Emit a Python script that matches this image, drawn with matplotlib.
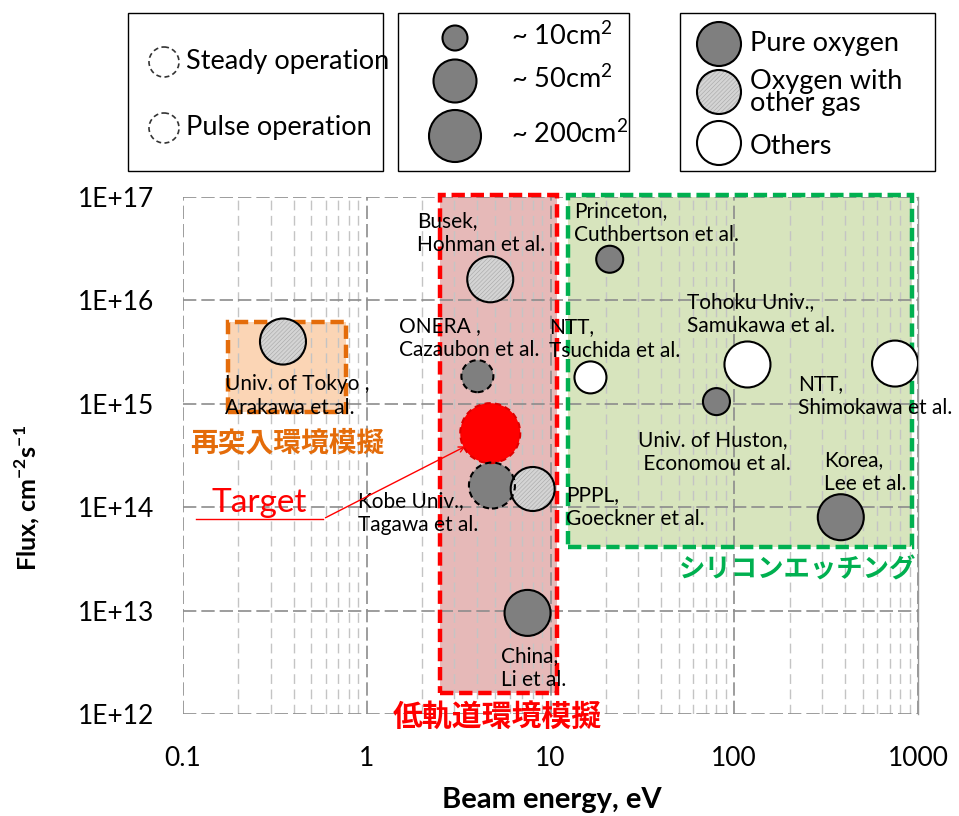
import numpy as np
import matplotlib
matplotlib.use("Agg")
import matplotlib.pyplot as plt
from matplotlib.patches import Rectangle, Circle
from matplotlib.ticker import LogLocator, NullFormatter

plt.rcParams['font.family'] = ['Lato', 'Noto Sans CJK JP', 'DejaVu Sans']
plt.rcParams['mathtext.fontset'] = 'custom'
plt.rcParams['mathtext.rm'] = 'Lato'
plt.rcParams['mathtext.bf'] = 'Lato:bold'
plt.rcParams['hatch.linewidth'] = 0.4

# ビーム源データ (エネルギー eV, フラックス cm-2 s-1)
names = ['Tokyo', 'Busek', 'ONERA', 'Target', 'Kobe', 'PPPL', 'China',
         'Princeton', 'NTT-Tsuchida', 'Tohoku', 'NTT-Shimokawa', 'Huston', 'Korea']
energy = [0.35, 4.7, 4.0, 4.7, 4.8, 8.0, 7.5, 21, 16.5, 118, 750, 80, 380]
flux = [4.0e15, 1.6e16, 1.85e15, 5.2e14, 1.62e14, 1.5e14, 9.5e12,
        2.5e16, 1.8e15, 2.4e15, 2.45e15, 1.05e15, 8.0e13]
diam = [46, 46, 32, 60, 46, 44, 46, 27, 32, 46, 46, 27, 46]   # 円の直径 (px)
gas = ['mix', 'mix', 'pure', 'target', 'pure', 'mix', 'pure',
       'pure', 'other', 'other', 'other', 'pure', 'pure']
pulsed = [False, False, True, True, True, False, False,
          False, False, False, False, False, False]

# 領域 (x0, x1, y0, y1)
reentry_box = [0.176, 0.77, 8.3e14, 6.2e15]
leo_box = [2.5, 10.8, 1.6e12, 1.05e17]
etch_box = [12.4, 925, 4.1e13, 1.05e17]

face = {'pure': '#7f7f7f', 'mix': '#d4d4d4', 'other': 'white', 'target': '#ff0000'}
edge = {'pure': 'black', 'mix': 'black', 'other': 'black', 'target': '#e00000'}
HATCH = '////////'
HATCH_C = '#a6a6a6'

fig = plt.figure(figsize=(9.59, 8.16), dpi=100)
ax = fig.add_axes([183/959, 1-714/816, (918-183)/959, (714-197)/816])
ax.set_xscale('log')
ax.set_yscale('log')
ax.set_xlim(0.1, 1000)
ax.set_ylim(1e12, 1e17)

def box(b, fc, ec):
    x0, x1, y0, y1 = b
    ax.add_patch(Rectangle((x0, y0), x1-x0, y1-y0, fc=fc, ec='none', zorder=1))
    ax.add_patch(Rectangle((x0, y0), x1-x0, y1-y0, fc='none', ec=ec, lw=3.2,
                           ls=(0, (3, 1.3)), zorder=2.6, clip_on=False))

box(reentry_box, '#fbd5b5', '#e46c0a')
box(leo_box, '#e6b9b8', '#ff0000')
box(etch_box, '#d7e4bd', '#00b050')

for i in range(len(names)):
    s = (diam[i]*0.72)**2
    ls = (0, (3, 2)) if pulsed[i] else 'solid'
    ax.scatter(energy[i], flux[i], s=s, c=face[gas[i]], edgecolors='none', zorder=3)
    if gas[i] == 'mix':
        # ハッチは灰色の線で、縁は別に描く
        ax.scatter(energy[i], flux[i], s=s, facecolors='none', edgecolors=HATCH_C,
                   linewidths=0, hatch=HATCH, zorder=3.1)
    ax.scatter(energy[i], flux[i], s=s, facecolors='none', edgecolors=edge[gas[i]],
               linewidths=1.5, linestyles=ls, zorder=3.2)

ax.set_axisbelow(False)
ax.grid(which='major', axis='both', color='#8c8c8c', ls=(0, (8, 3)), lw=1.2)
ax.xaxis.set_minor_locator(LogLocator(base=10, subs=np.arange(2, 10)))
ax.xaxis.set_minor_formatter(NullFormatter())
ax.grid(which='minor', axis='x', color='#c4c4c4', ls=(0, (7, 4)), lw=1.0)
ax.yaxis.set_minor_locator(plt.NullLocator())

ax.set_xticks([0.1, 1, 10, 100, 1000])
ax.set_xticklabels(['0.1', '1', '10', '100', '1000'])
ax.set_yticks([1e12, 1e13, 1e14, 1e15, 1e16, 1e17])
ax.set_yticklabels(['1E+12', '1E+13', '1E+14', '1E+15', '1E+16', '1E+17'])
ax.tick_params(which='both', length=0, labelsize=19)
ax.tick_params(axis='x', pad=23)
ax.tick_params(axis='y', pad=21)
for k in ['left', 'bottom', 'top']:
    ax.spines[k].set_visible(False)
ax.spines['right'].set_color('#9a9a9a')
ax.spines['right'].set_linewidth(1)

# 凡例と注記はピクセル座標で配置
ov = fig.add_axes([0, 0, 1, 1], zorder=5)
ov.set_xlim(0, 959)
ov.set_ylim(816, 0)
ov.axis('off')

fs = 15
labels = [
    (417, 233, 'Busek,\nHohman et al.'),
    (574, 223, 'Princeton,\nCuthbertson et al.'),
    (687, 314, 'Tohoku Univ.,\nSamukawa et al.'),
    (399, 338, 'ONERA ,\nCazaubon et al.'),
    (549, 339, 'NTT,\nTsuchida et al.'),
    (798, 396, 'NTT,\nShimokawa et al.'),
    (225, 396, 'Univ. of Tokyo ,\nArakawa et al.'),
    (638, 452, 'Univ. of Huston,\n Economou et al.'),
    (824, 472, 'Korea,\nLee et al.'),
    (358, 513, 'Kobe Univ.,\nTagawa et al.'),
    (566, 507, 'PPPL,\nGoeckner et al.'),
    (501, 668, 'China,\nLi et al.'),
]
for x, y, t in labels:
    ov.text(x, y, t, fontsize=fs, ha='left', va='center', linespacing=1.3)

ov.text(287, 443, '再突入環境模擬', color='#e46c0a', fontsize=20, fontweight='bold',
        ha='center', va='center')
ov.text(497, 716, '低軌道環境模擬', color='#ff0000', fontsize=21.5, fontweight='bold',
        ha='center', va='center')
ov.text(798, 569, 'シリコンエッチング', color='#00b050', fontsize=19, fontweight='bold',
        ha='center', va='center')

ov.text(259, 503, 'Target', color='#ff0000', fontsize=24, ha='center', va='center')
ov.plot([196, 323], [519, 519], color='#ff0000', lw=1)
ov.annotate('', xy=(468, 445), xytext=(323, 519),
            arrowprops=dict(arrowstyle='->', color='#ff0000', lw=1))

ov.text(552, 800, 'Beam energy, eV', fontsize=21, fontweight='bold', ha='center', va='center')
ov.text(27, 498, r'Flux, cm$^{\mathbf{-2}}$s$^{\mathbf{-1}}$', fontsize=18, fontweight='bold',
        rotation=90, ha='center', va='center')

# 凡例ボックス
for x0, x1 in [(128, 383), (398, 629), (680, 935)]:
    ov.add_patch(Rectangle((x0, 13), x1-x0, 158, fc='white', ec='black', lw=1))

lfs = 19.5
ov.add_patch(Circle((164, 62), 15, fc='white', ec='#333333', lw=1.2, ls=(0, (3, 2))))
ov.add_patch(Circle((164, 128), 15, fc='white', ec='#333333', lw=1.2, ls=(0, (3, 2))))
ov.text(186, 62, 'Steady operation', fontsize=lfs, va='center')
ov.text(186, 128, 'Pulse operation', fontsize=lfs, va='center')

for cy, r, t in [(38, 12.5, '~ 10cm$^2$'), (81, 21.5, '~ 50cm$^2$'), (136, 26, '~ 200cm$^2$')]:
    ov.add_patch(Circle((455, cy), r, fc='#7f7f7f', ec='black', lw=1.5))
    ov.text(511, cy-2, t, fontsize=lfs, va='center')

ov.add_patch(Circle((719, 44), 22, fc='#7f7f7f', ec='black', lw=1.5))
ov.add_patch(Circle((719, 92), 22, fc='#d4d4d4', ec='none'))
ov.add_patch(Circle((719, 92), 22, fc='none', ec=HATCH_C, lw=0, hatch=HATCH))
ov.add_patch(Circle((719, 92), 22, fc='none', ec='black', lw=1.5))
ov.add_patch(Circle((719, 143), 22, fc='white', ec='black', lw=1.5))
ov.text(750, 44, 'Pure oxygen', fontsize=lfs, va='center')
ov.text(750, 92, 'Oxygen with\nother gas', fontsize=lfs, va='center', linespacing=0.85)
ov.text(750, 147, 'Others', fontsize=lfs, va='center')

fig.savefig('out.png', dpi=100)
